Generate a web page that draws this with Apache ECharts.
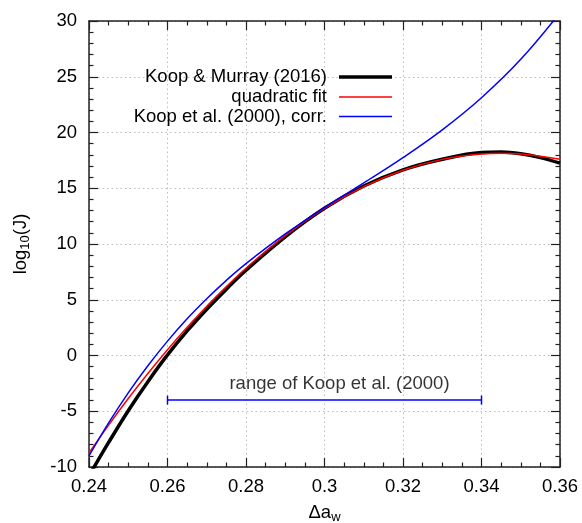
<!DOCTYPE html>
<html>
<head>
<meta charset="utf-8">
<script src="https://cdn.jsdelivr.net/npm/echarts@6/dist/echarts.min.js"></script>
<style>
  html, body { margin: 0; padding: 0; background: #fff; }
  #chart { width: 582px; height: 523px; }
</style>
</head>
<body>
<div id="chart"></div>
<script>
// Nucleation rate curves, log10(J) against water-activity shift
const xKM = [0.24, 0.245, 0.25, 0.255, 0.26, 0.265, 0.27, 0.275, 0.28, 0.29, 0.30, 0.31, 0.32, 0.33, 0.34, 0.345, 0.35, 0.355, 0.36];
const yKM = [-10.8, -7.8, -4.95, -2.35, 0.05, 2.2, 4.15, 5.95, 7.65, 10.65, 13.2, 15.2, 16.65, 17.6, 18.2, 18.25, 18.1, 17.75, 17.25];

const xFit = [0.24, 0.245, 0.25, 0.255, 0.26, 0.265, 0.27, 0.275, 0.28, 0.29, 0.30, 0.31, 0.32, 0.33, 0.34, 0.345, 0.35, 0.36];
const yFit = [-8.73, -6.24, -3.86, -1.61, 0.52, 2.53, 4.42, 6.18, 7.83, 10.75, 13.19, 15.14, 16.61, 17.59, 18.08, 18.14, 18.08, 17.6];

const xK2000 = [0.24, 0.245, 0.25, 0.255, 0.26, 0.265, 0.27, 0.275, 0.28, 0.29, 0.30, 0.31, 0.32, 0.33, 0.34, 0.35, 0.36];
const yK2000 = [-9.0, -6.04, -3.35, -0.92, 1.29, 3.29, 5.09, 6.74, 8.24, 10.9, 13.26, 15.48, 17.75, 20.24, 23.12, 26.56, 30.75];

// Validity range of the 2000 parameterisation
const rangeX = [0.26, 0.34];
const rangeY = -4;
const rangeText = 'range of Koop et al. (2000)';

const seriesNames = ['Koop & Murray (2016)', 'quadratic fit', 'Koop et al. (2000), corr.'];
const xTicks = { min: 0.24, max: 0.36, step: 0.02 };
const yTicks = { min: -10, max: 30, step: 5 };

const FONT = 'Liberation Sans, Arial, Helvetica, sans-serif';
const FS = 18.5;
const AXIS_COLOR = '#222';

const pairs = (xs, ys) => xs.map((x, i) => [x, ys[i]]);

const chart = echarts.init(document.getElementById('chart'), null, { renderer: 'canvas' });

function axisCommon(extra) {
  return Object.assign({
    type: 'value',
    axisLine: { show: true, onZero: false, lineStyle: { color: AXIS_COLOR, width: 1.5 } },
    axisTick: { show: true, inside: true, length: 9, lineStyle: { color: AXIS_COLOR, width: 1.2 } },
    minorTick: { show: true, length: 4.5, lineStyle: { color: AXIS_COLOR, width: 1.2 } },
    splitLine: { show: false },
    minorSplitLine: { show: false }
  }, extra);
}

function legendFor(name, top, h) {
  return {
    data: [name],
    orient: 'vertical',
    right: 190,
    top: top,
    align: 'right',
    padding: 0,
    itemWidth: 53,
    itemHeight: h,
    icon: 'rect',
    selectedMode: false,
    textStyle: { fontFamily: FONT, fontSize: FS, color: '#000', lineHeight: 20, padding: [0, 7, 0, 0] }
  };
}

const option = {
  animation: false,
  backgroundColor: '#fff',
  textStyle: { fontFamily: FONT },
  grid: { left: 89, right: 22, top: 21, bottom: 56, containLabel: false, outerBoundsMode: 'none' },
  legend: [
    legendFor(seriesNames[0], 67, 3.5),
    legendFor(seriesNames[1], 87, 1.5),
    legendFor(seriesNames[2], 106.5, 1.5)
  ],
  xAxis: [
    axisCommon({
      position: 'bottom',
      min: xTicks.min, max: xTicks.max, interval: xTicks.step,
      minorTick: { show: true, splitNumber: 4, length: 4.5, lineStyle: { color: AXIS_COLOR, width: 1.2 } },
      splitLine: { show: true, lineStyle: { color: '#bdbdbd', width: 1, type: [1.5, 3] } },
      axisLabel: {
        fontFamily: FONT, fontSize: FS, color: '#000', margin: 10,
        formatter: v => String(+v.toFixed(2))
      },
      name: 'Δa{s|w}',
      nameLocation: 'middle',
      nameGap: 35,
      nameTextStyle: {
        fontFamily: FONT, fontSize: FS, color: '#000',
        rich: { s: { fontFamily: FONT, fontSize: 13, color: '#000', verticalAlign: 'bottom', padding: [9, 0, 0, 0] } }
      }
    }),
    axisCommon({
      position: 'top',
      min: xTicks.min, max: xTicks.max, interval: xTicks.step,
      minorTick: { show: true, splitNumber: 4, length: 4.5, lineStyle: { color: AXIS_COLOR, width: 1.2 } },
      axisLabel: { show: false }
    })
  ],
  yAxis: [
    axisCommon({
      position: 'left',
      min: yTicks.min, max: yTicks.max, interval: yTicks.step,
      minorTick: { show: true, splitNumber: 5, length: 4.5, lineStyle: { color: AXIS_COLOR, width: 1.2 } },
      splitLine: { show: true, lineStyle: { color: '#bdbdbd', width: 1, type: [1.5, 3] } },
      axisLabel: { fontFamily: FONT, fontSize: FS, color: '#000', margin: 12 },
      name: 'log{s|10}(J)',
      nameLocation: 'middle',
      nameGap: 57,
      nameTextStyle: {
        fontFamily: FONT, fontSize: FS, color: '#000',
        rich: { s: { fontFamily: FONT, fontSize: 13, color: '#000', verticalAlign: 'bottom', padding: [9, 0, 0, 0] } }
      }
    }),
    axisCommon({
      position: 'right',
      min: yTicks.min, max: yTicks.max, interval: yTicks.step,
      minorTick: { show: true, splitNumber: 5, length: 4.5, lineStyle: { color: AXIS_COLOR, width: 1.2 } },
      axisLabel: { show: false }
    })
  ],
  series: [
    {
      name: seriesNames[0], type: 'line', xAxisIndex: 0, yAxisIndex: 0,
      data: pairs(xKM, yKM), smooth: 0.4, symbol: 'none', clip: true,
      color: '#000', lineStyle: { color: '#000', width: 3.5 }, z: 3
    },
    {
      name: seriesNames[1], type: 'line', xAxisIndex: 0, yAxisIndex: 0,
      data: pairs(xFit, yFit), smooth: 0.4, symbol: 'none', clip: true,
      color: '#ff0000', lineStyle: { color: '#ff0000', width: 1.5 }, z: 4
    },
    {
      name: seriesNames[2], type: 'line', xAxisIndex: 0, yAxisIndex: 0,
      data: pairs(xK2000, yK2000), smooth: 0.4, symbol: 'none', clip: true,
      color: '#0000ff', lineStyle: { color: '#0000ff', width: 1.5 }, z: 5
    },
    {
      name: 'range', type: 'line', xAxisIndex: 0, yAxisIndex: 0,
      data: rangeX.map(x => [x, rangeY]),
      symbol: 'rect', symbolSize: [1.5, 9], showSymbol: true,
      color: '#0000ff', lineStyle: { color: '#0000ff', width: 1.5 },
      itemStyle: { color: '#0000ff' }, z: 5
    },
    {
      name: 'rangeLabel', type: 'scatter', xAxisIndex: 0, yAxisIndex: 0,
      data: [[(rangeX[0] + rangeX[1]) / 2, rangeY]],
      symbolSize: 0, silent: true,
      label: {
        show: true, position: 'top', distance: 7, offset: [15, 0],
        formatter: rangeText, fontFamily: FONT, fontSize: FS, color: '#000'
      }
    }
  ]
};

chart.setOption(option);
</script>
</body>
</html>
